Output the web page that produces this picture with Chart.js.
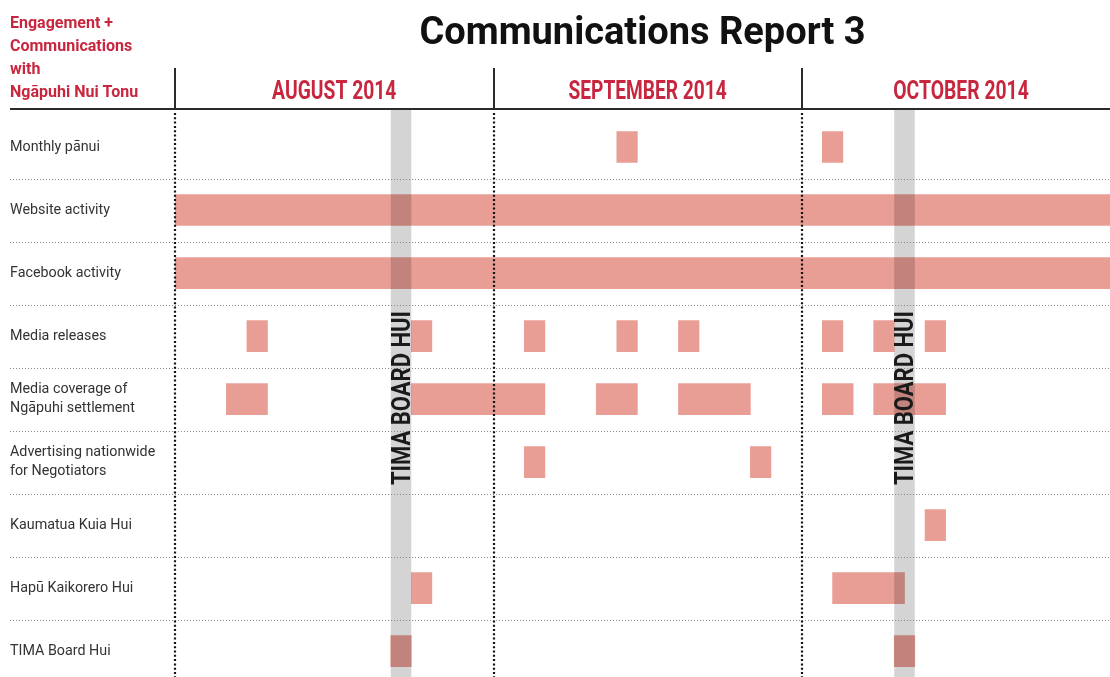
<!DOCTYPE html>
<html>
<head>
<meta charset="utf-8">
<script src="https://cdn.jsdelivr.net/npm/chart.js@4/dist/chart.umd.min.js"></script>
<style>
  html, body { margin: 0; padding: 0; background: #fff; }
  #wrap { width: 1110px; height: 677px; }
</style>
</head>
<body>
<div id="wrap"><canvas id="comms" aria-label="Communications Report 3"></canvas></div>
<script>
// rows, top to bottom
const rowLabels = [
  'Monthly pānui',
  'Website activity',
  'Facebook activity',
  'Media releases',
  ['Media coverage of', 'Ngāpuhi settlement'],
  ['Advertising nationwide', 'for Negotiators'],
  'Kaumatua Kuia Hui',
  'Hapū Kaikorero Hui',
  'TIMA Board Hui'
];

// time axis in days counted from 1 August 2014
const monthLabels = ['AUGUST 2014', 'SEPTEMBER 2014', 'OCTOBER 2014'];
const monthStarts = [0, 31, 61];
const monthEnds = [31, 61, 92];
const lastDay = 91;

// [start, end] day spans for each row
const monthlyPanui = [[43, 45], [63, 65]];
const websiteActivity = [[0, 91]];
const facebookActivity = [[0, 91]];
const mediaReleases = [[7, 9], [23, 25], [34, 36], [43, 45], [49, 51], [63, 65], [68, 70], [73, 75]];
const mediaCoverage = [[5, 9], [23, 36], [41, 45], [49, 56], [63, 66], [68, 75]];
const advertising = [[34, 36], [56, 58]];
const kaumatuaKuiaHui = [[73, 75]];
const hapuKaikoreroHui = [[23, 25], [64, 71]];
const timaBoardHui = [[21, 23], [70, 72]];

const schedule = [monthlyPanui, websiteActivity, facebookActivity, mediaReleases, mediaCoverage,
                  advertising, kaumatuaKuiaHui, hapuKaikoreroHui, timaBoardHui];

// grey "TIMA BOARD HUI" bands
const boardHuiBands = [[21, 23], [70, 72]];
const boardHuiText = 'TIMA BOARD HUI';
const cornerTitle = ['Engagement +', 'Communications', 'with', 'Ngāpuhi Nui Tonu'];

const RED = 'rgb(200,38,62)';
const PINK = 'rgb(232,158,148)';
const FONT = 'Roboto, "Noto Sans", sans-serif';
const HEADER_Y = 109;

const barData = [];
schedule.forEach((spans, row) => {
  spans.forEach(s => barData.push({ x: [s[0], s[1]], y: row }));
});

const decor = {
  id: 'decor',
  beforeDraw(chart) {
    const { ctx } = chart;
    ctx.save();
    ctx.fillStyle = '#fff';
    ctx.fillRect(0, 0, chart.width, chart.height);
    ctx.restore();
  },
  afterDatasetsDraw(chart) {
    const { ctx, scales: { x, y } } = chart;
    ctx.save();

    // grey bands sit over the bars
    ctx.fillStyle = 'rgba(0,0,0,0.17)';
    boardHuiBands.forEach(([s, e]) => {
      const l = x.getPixelForValue(s), r = x.getPixelForValue(e);
      ctx.fillRect(l, HEADER_Y + 1, r - l, chart.height - HEADER_Y);
    });

    // row dividers
    ctx.strokeStyle = '#8a8a8a';
    ctx.lineWidth = 1;
    ctx.setLineDash([1, 2]);
    for (let i = 0; i < rowLabels.length - 1; i++) {
      const py = Math.round(y.getPixelForValue(i + 0.5)) + 0.5;
      ctx.beginPath();
      ctx.moveTo(10, py);
      ctx.lineTo(chart.width, py);
      ctx.stroke();
    }

    // month boundaries
    ctx.strokeStyle = '#111';
    ctx.lineWidth = 2.2;
    ctx.setLineDash([2, 2.3]);
    monthStarts.forEach(d => {
      const px = Math.round(x.getPixelForValue(d));
      ctx.beginPath();
      ctx.moveTo(px, HEADER_Y + 4);
      ctx.lineTo(px, chart.height);
      ctx.stroke();
    });
    ctx.setLineDash([]);

    // band captions
    const size = 25;
    ctx.font = '700 ' + size + 'px ' + FONT;
    ctx.fillStyle = '#1a1a1a';
    ctx.textAlign = 'center';
    ctx.textBaseline = 'alphabetic';
    boardHuiBands.forEach(([s, e]) => {
      const cx = (x.getPixelForValue(s) + x.getPixelForValue(e)) / 2;
      const cy = y.getPixelForValue(4) - 1;
      ctx.save();
      ctx.translate(cx, cy);
      ctx.rotate(-Math.PI / 2);
      ctx.fillText(boardHuiText, 0, size * 0.711 / 2, 174);
      ctx.restore();
    });
    ctx.restore();
  },
  afterDraw(chart) {
    const { ctx, scales: { x } } = chart;
    ctx.save();
    // header rule and month separators
    ctx.strokeStyle = '#2b2b2b';
    ctx.lineWidth = 2;
    ctx.beginPath();
    ctx.moveTo(10, HEADER_Y);
    ctx.lineTo(chart.width, HEADER_Y);
    monthStarts.forEach(d => {
      const px = Math.round(x.getPixelForValue(d));
      ctx.moveTo(px, 68);
      ctx.lineTo(px, HEADER_Y);
    });
    ctx.stroke();

    // month names, squeezed to the condensed look of the original
    ctx.fillStyle = RED;
    ctx.font = '700 25px ' + FONT;
    ctx.textAlign = 'center';
    ctx.textBaseline = 'alphabetic';
    monthLabels.forEach((m, i) => {
      const cx = x.getPixelForValue((monthStarts[i] + monthEnds[i]) / 2);
      ctx.fillText(m, cx, 99, m.length * 11.3);
    });

    // corner heading
    ctx.font = '700 16px ' + FONT;
    ctx.textAlign = 'left';
    ctx.textBaseline = 'middle';
    cornerTitle.forEach((t, i) => ctx.fillText(t, 10, 24 + i * 23));
    ctx.restore();
  }
};

new Chart(document.getElementById('comms'), {
  type: 'bar',
  data: {
    datasets: [{
      label: 'Activity',
      data: barData,
      backgroundColor: PINK,
      borderWidth: 0,
      barThickness: 31
    }]
  },
  options: {
    indexAxis: 'y',
    responsive: true,
    maintainAspectRatio: false,
    animation: false,
    layout: { padding: { left: 10, right: 0, top: 0, bottom: 0 } },
    plugins: {
      legend: { display: false },
      tooltip: { enabled: false },
      title: {
        display: true,
        text: 'Communications Report 3',
        fullSize: false,
        color: '#111',
        font: { family: FONT, size: 38, weight: '700', lineHeight: 1.2 },
        padding: { top: 12, bottom: 0 }
      }
    },
    scales: {
      x: {
        type: 'linear',
        position: 'top',
        min: 0,
        max: lastDay,
        offset: false,
        grid: { display: false, drawTicks: false },
        border: { display: false },
        ticks: { display: false },
        afterFit: s => { s.height = 115.5 - 57.6; s.paddingLeft = 0; s.paddingRight = 0; }
      },
      y: {
        type: 'linear',
        reverse: true,
        min: -0.5,
        max: 8.41,
        offset: false,
        grid: { display: false, drawTicks: false, offset: false },
        border: { display: false },
        afterBuildTicks: s => { s.ticks = rowLabels.map((l, i) => ({ value: i })); },
        afterFit: s => { s.width = 165; s.paddingTop = 0; s.paddingBottom = 0; },
        ticks: {
          autoSkip: false,
          crossAlign: 'far',
          color: '#333',
          font: { family: FONT, size: 14.3, lineHeight: 1.3 },
          callback: (v, i) => rowLabels[i]
        }
      }
    }
  },
  plugins: [decor]
});
</script>
</body>
</html>
